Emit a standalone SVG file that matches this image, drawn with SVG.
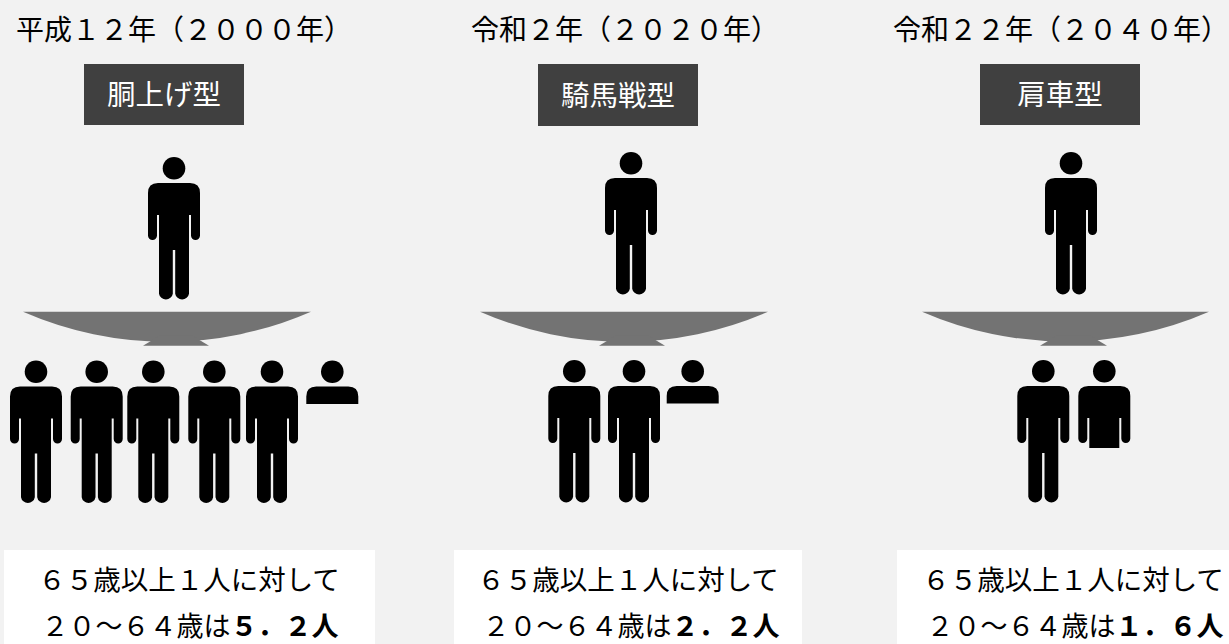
<svg xmlns="http://www.w3.org/2000/svg" xmlns:xlink="http://www.w3.org/1999/xlink" width="1229" height="644" viewBox="0 0 1229 644">
  <style>
    text { font-family: "Noto Sans CJK JP", "Noto Sans", sans-serif; }
    .title { font-size: 28px; fill: #000; }
    .label-box { fill: #404040; }
    .label { font-size: 28.5px; fill: #fff; text-anchor: middle; }
    .tray { fill: #737373; }
    .caption-box { fill: #fff; }
    .caption { font-size: 27px; fill: #000; text-anchor: middle; }
    .caption.first { font-size: 27.5px; }
    .num { font-weight: bold; }
    .figure { fill: #000; }
  </style>
  <defs>
    <!-- standing person, origin at the top centre of the head -->
    <g id="person" class="figure">
      <circle cx="0" cy="11.3" r="11.3"/>
      <path d="M -16 26 H 16 Q 26 26 26 36 V 78.5 A 4.5 4.5 0 0 1 17 78.5 V 58 H 15 V 136.7 A 7 7 0 0 1 1.2 136.7 V 93 H -1.2 V 136.7 A 7 7 0 0 1 -15 136.7 V 58 H -17 V 78.5 A 4.5 4.5 0 0 1 -26 78.5 V 36 Q -26 26 -16 26 Z"/>
    </g>
    <clipPath id="clip-shoulders" clipPathUnits="userSpaceOnUse">
      <rect x="-30" y="-5" width="60" height="48.5"/>
    </clipPath>
    <clipPath id="clip-torso" clipPathUnits="userSpaceOnUse">
      <rect x="-30" y="-5" width="60" height="93"/>
    </clipPath>
    <!-- fractions of a person -->
    <g id="person-head"><use xlink:href="#person" clip-path="url(#clip-shoulders)"/></g>
    <g id="person-upper"><use xlink:href="#person" clip-path="url(#clip-torso)"/></g>
  </defs>

  <rect x="0" y="0" width="1229" height="644" fill="#f2f2f2"/>

  <!-- 2000 -->
  <g id="era-2000">
    <text class="title" x="16" y="40">平成１２年（２０００年）</text>
    <g id="label-2000">
      <rect class="label-box" x="84" y="64" width="160" height="61"/>
      <text class="label" x="164" y="105">胴上げ型</text>
    </g>
    <use id="elder-2000" xlink:href="#person" x="174" y="157"/>
    <g id="tray-2000" class="tray">
      <path d="M 23 311.7 H 311 A 360 360 0 0 1 23 311.7 Z"/>
      <polygon points="143,345.7 160,335.5 192,335.5 209,345.7"/>
    </g>
    <g id="workers-2000">
      <use xlink:href="#person" x="36" y="360.5"/>
      <use xlink:href="#person" x="96.7" y="360.5"/>
      <use xlink:href="#person" x="153.3" y="360.5"/>
      <use xlink:href="#person" x="214.3" y="360.5"/>
      <use xlink:href="#person" x="272" y="360.5"/>
      <use xlink:href="#person-head" x="332.3" y="360.5"/>
    </g>
    <g id="caption-2000">
      <rect class="caption-box" x="4" y="550" width="371" height="100"/>
      <text class="caption first" x="189" y="589.5">６５歳以上１人に対して</text>
      <text class="caption" x="190" y="636">２０～６４歳は<tspan class="num">５．２人</tspan></text>
    </g>
  </g>

  <!-- 2020 -->
  <g id="era-2020">
    <text class="title" x="471" y="40">令和２年（２０２０年）</text>
    <g id="label-2020">
      <rect class="label-box" x="538" y="64" width="160" height="62"/>
      <text class="label" x="618" y="105.5">騎馬戦型</text>
    </g>
    <use id="elder-2020" xlink:href="#person" x="631" y="152"/>
    <g id="tray-2020" class="tray">
      <path d="M 480 311.7 H 768 A 360 360 0 0 1 480 311.7 Z"/>
      <polygon points="599,345.7 616,335.5 648,335.5 665,345.7"/>
    </g>
    <g id="workers-2020">
      <use xlink:href="#person" x="574.3" y="360"/>
      <use xlink:href="#person" x="634" y="360"/>
      <use xlink:href="#person-head" x="692.7" y="360"/>
    </g>
    <g id="caption-2020">
      <rect class="caption-box" x="454" y="550" width="348" height="100"/>
      <text class="caption first" x="628" y="589.5">６５歳以上１人に対して</text>
      <text class="caption" x="631" y="636">２０～６４歳は<tspan class="num">２．２人</tspan></text>
    </g>
  </g>

  <!-- 2040 -->
  <g id="era-2040">
    <text class="title" x="893" y="40">令和２２年（２０４０年）</text>
    <g id="label-2040">
      <rect class="label-box" x="980" y="64" width="160" height="61"/>
      <text class="label" x="1060" y="105">肩車型</text>
    </g>
    <use id="elder-2040" xlink:href="#person" x="1071" y="152"/>
    <g id="tray-2040" class="tray">
      <path d="M 922 311.7 H 1209 A 360 360 0 0 1 922 311.7 Z"/>
      <polygon points="1040,345.7 1057,335.5 1090,335.5 1107,345.7"/>
    </g>
    <g id="workers-2040">
      <use xlink:href="#person" x="1043.3" y="360"/>
      <use xlink:href="#person-upper" x="1104.3" y="360"/>
    </g>
    <g id="caption-2040">
      <rect class="caption-box" x="897" y="550" width="340" height="100"/>
      <text class="caption first" x="1073" y="589.5">６５歳以上１人に対して</text>
      <text class="caption" x="1075" y="636">２０～６４歳は<tspan class="num">１．６人</tspan></text>
    </g>
  </g>
</svg>
